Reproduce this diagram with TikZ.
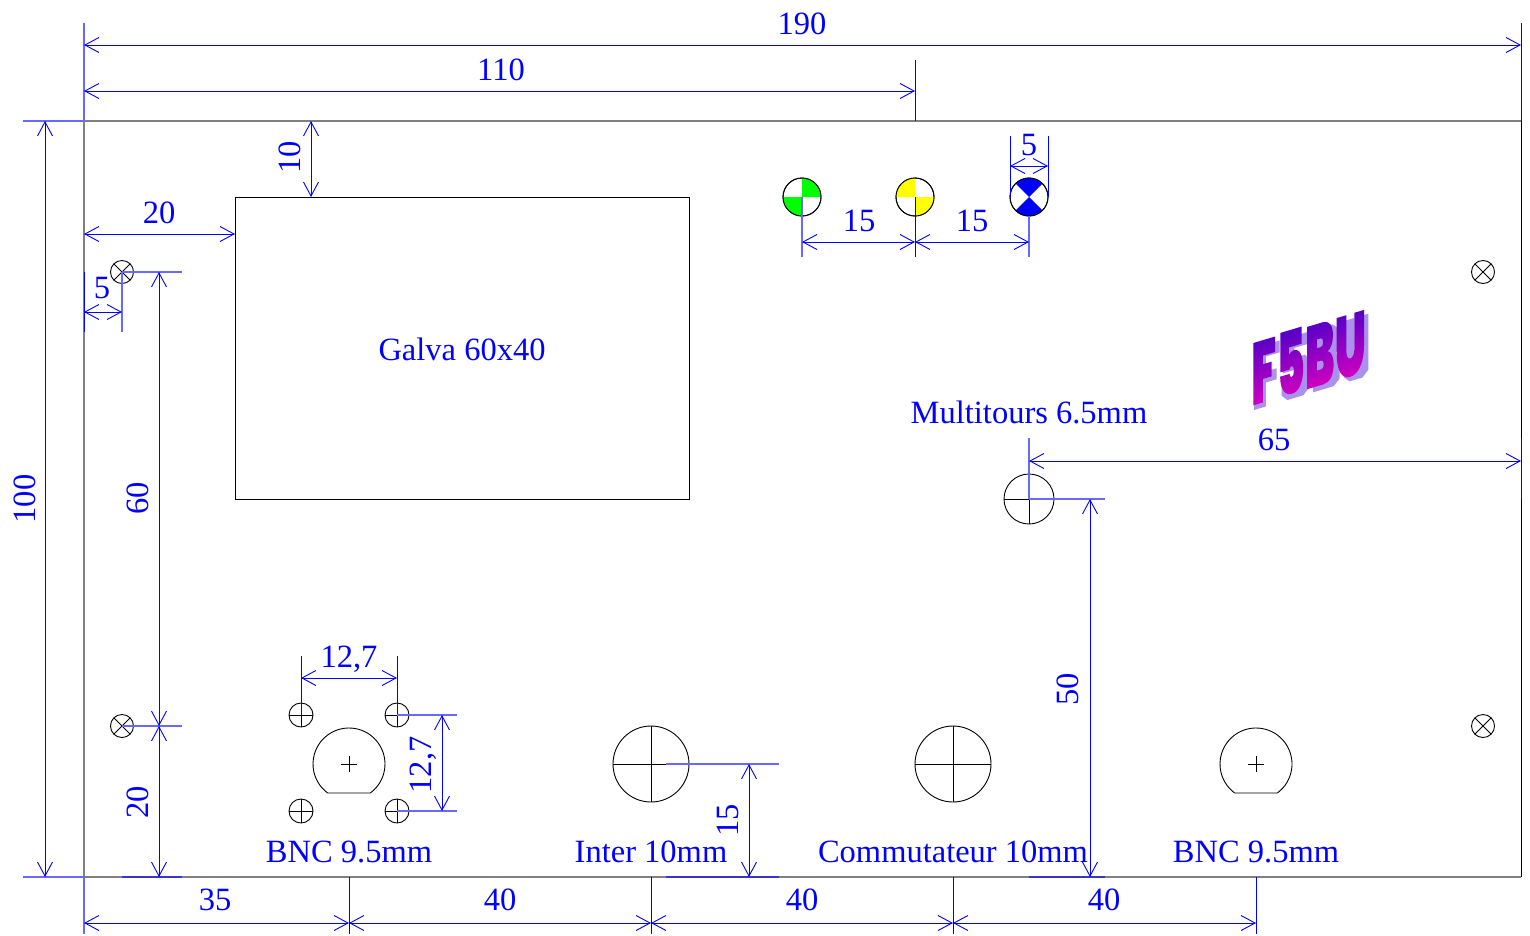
\documentclass[tikz,border=0pt]{standalone}
\usepackage{fontspec}
\setmainfont{Liberation Serif}
\newfontfamily\logofont{Poppins Black}
\usetikzlibrary{arrows.meta,shadings}
\definecolor{logoTop}{RGB}{80,0,200}
\definecolor{logoBot}{RGB}{215,0,190}
\definecolor{logoShadow}{RGB}{170,145,235}
\definecolor{dimblue}{RGB}{0,0,255}
\definecolor{softblue}{RGB}{105,105,255}
\definecolor{edgeblue}{RGB}{55,55,195}
\definecolor{softgray}{RGB}{128,128,128}
\definecolor{ledgreen}{RGB}{0,255,0}
\definecolor{ledyellow}{RGB}{255,255,0}
\newcommand{\CC}[3]{\coordinate (#1) at (#2,#3);}
\tikzset{
  outline/.style={draw=black,line width=0.9pt},
  softedge/.style={draw=softgray,line width=1.1pt},
  hole/.style={circle,draw=black,line width=0.9pt,inner sep=0pt,outer sep=0pt,minimum size=#1},
  extline/.style={color=dimblue,line width=0.9pt},
  softext/.style={color=softblue,line width=1.1pt},
  edgeext/.style={color=edgeblue,line width=1.1pt},
  dimline/.style={color=dimblue,line width=0.9pt,{Straight Barb[length=14pt,width=15pt]}-{Straight Barb[length=14pt,width=15pt]}},
  lab/.style={text=dimblue,font=\fontsize{32.5}{36}\selectfont,inner sep=0pt},
  vlab/.style={lab,rotate=90}
}
\begin{document}
\begin{tikzpicture}[x=1pt,y=-1pt]
\useasboundingbox (0,0) rectangle (1530,935);
% panel and meter
\node[inner sep=0pt,outer sep=0pt,minimum width=1437pt,minimum height=756pt] (panel) at (802.5,499) {};
\draw[softedge] (panel.south east)--(panel.south west)--(panel.north west)--(panel.north east);
\draw[outline] (panel.north east)--(panel.south east);
\node[draw=black,line width=0.9pt,inner sep=0pt,outer sep=0pt,minimum width=454pt,minimum height=302pt] (galva) at (462,348) {};
\node[lab] (galvaT) at (462,349) {Galva 60x40};
% screws
\foreach \n/\x/\y in {s1/122/272,s2/122/726,s3/1483/272,s4/1483/726}{
  \node[hole=23pt] (\n) at (\x,\y) {};
  \draw[outline] (\n.north west)--(\n.south east) (\n.north east)--(\n.south west);
}
% LEDs
\node[hole=38pt] (ledG) at (802,197) {};
\node[hole=38pt] (ledY) at (915,197) {};
\node[hole=38pt] (ledB) at (1029,197) {};
\fill[ledgreen] (ledG.center)--(ledG.east) arc[start angle=0,end angle=90,radius=19pt]--cycle;
\fill[ledgreen] (ledG.center)--(ledG.west) arc[start angle=180,end angle=270,radius=19pt]--cycle;
\fill[ledyellow] (ledY.center)--(ledY.north) arc[start angle=90,end angle=180,radius=19pt]--cycle;
\fill[ledyellow] (ledY.center)--(ledY.south) arc[start angle=270,end angle=360,radius=19pt]--cycle;
\fill[dimblue] (ledB.center)--(ledB.45) arc[start angle=45,end angle=135,radius=19pt]--cycle;
\fill[dimblue] (ledB.center)--(ledB.225) arc[start angle=225,end angle=315,radius=19pt]--cycle;
\foreach \n in {ledG,ledY,ledB}{\draw[outline] (\n.center) circle[radius=19pt];}
% round holes with cross
\foreach \n/\x/\y/\d in {m1/301/715/24pt,m2/397/715/24pt,m3/301/811/24pt,m4/397/811/24pt,inter/651/764/76pt,comm/953/764/76pt,multi/1029/499/50pt}{
  \node[hole=\d] (\n) at (\x,\y) {};
  \draw[outline] (\n.north)--(\n.south) (\n.west)--(\n.east);
}
% BNC cut-outs
\CC{bncA}{349}{764}\CC{bncB}{1256}{764}
\foreach \n in {bncA,bncB}{
  \draw[outline] (\n)++(-21.3,29)--++(42.6,0) arc[start angle=-53.7,end angle=233.7,radius=36pt]--cycle;
  \draw[outline] (\n)++(-8,0)--++(16,0) (\n)++(0,-8)--++(0,16);
}
% logo: drop shadow drawn as shapes, letters as real text filled with a gradient
\begin{scope}[cm={0.985,0.295,0,1,(1254,410)},x=1pt,y=1pt]
\fill[logoShadow] (0,0)--(12,0)--(12,24)--(23,24)--(23,35)--(12,35)--(12,50)--(26,50)--(26,62)--(0,62)--cycle;
\fill[logoShadow] (29,62)--(55,62)--(55,50)--(41,50)--(41,40)--(52,40)--(56,34)--(56,6)--(50,0)--(34,0)--(28,6)--(28,20)--(40,20)--(40,10)--(44,10)--(44,28)--(29,28)--cycle;
\fill[logoShadow] (60,0)--(60,62)--(80,62)--(86,56)--(86,38)--(83,32)--(87,26)--(87,6)--(81,0)--cycle;
\fill[logoShadow] (91,62)--(102,62)--(102,12)--(105,12)--(105,62)--(116,62)--(116,6)--(110,0)--(97,0)--(91,6)--cycle;
\end{scope}
\begin{scope}[shift={(1251,406)}]
\node[cm={0.495,0.148,0,1,(0,0)},transform shape,anchor=base west,inner sep=0pt,font=\fontsize{88}{90}\selectfont\logofont] (logoT) at (0,0) {\special{pdf:code 7 Tr}F5BU\special{pdf:code 0 Tr}\tikz[overlay,x=1pt,y=1pt]{\shade[top color=logoTop,bottom color=logoBot,draw=none] (-255,-5) rectangle (5,68);}};
\end{scope}
% dimension coordinates
\CC{a1}{84}{23}\CC{a2}{1521}{23}\CC{a3}{915}{60}\CC{a3b}{915}{121}
\CC{d190a}{84}{45}\CC{d190b}{1521}{45}
\CC{d110a}{84}{91}\CC{d110b}{915}{91}
\CC{b1}{23}{121}\CC{b2}{23}{877}
\CC{d100a}{45}{121}\CC{d100b}{45}{877}
\CC{d10a}{311}{121}\CC{d10b}{311}{197}
\CC{d20a}{84}{234}\CC{d20b}{235}{234}
\CC{d5a}{84}{312}\CC{d5b}{122}{312}
\CC{e1}{84}{272}\CC{e2}{84}{332}\CC{e3}{122}{332}
\CC{f1}{182}{272}\CC{f2}{182}{726}
\CC{d60a}{159}{272}\CC{d60b}{159}{726}\CC{d20c}{159}{877}
\CC{g1}{122}{877}\CC{g2}{182}{877}
\CC{d35a}{84}{923}\CC{d35b}{349}{923}\CC{d35c}{651}{923}\CC{d35d}{953}{923}\CC{d35e}{1256}{923}
\CC{h0}{84}{934}\CC{h1t}{349}{877}\CC{h1b}{349}{934}\CC{h2t}{651}{877}\CC{h2b}{651}{934}
\CC{h3t}{953}{877}\CC{h3b}{953}{934}\CC{h4t}{1256}{877}\CC{h4b}{1256}{934}
\CC{i1}{301}{656}\CC{i2}{397}{656}\CC{d127a}{301}{678}\CC{d127b}{397}{678}
\CC{j1}{457}{715}\CC{j2}{457}{811}\CC{d127c}{442}{715}\CC{d127d}{442}{811}
\CC{k0}{666}{764}\CC{k1}{779}{764}\CC{k2}{666}{877}\CC{k3}{779}{877}\CC{d15a}{749}{764}\CC{d15b}{749}{877}
\CC{l1}{1105}{499}\CC{l2}{1029}{877}\CC{l3}{1105}{877}\CC{d50a}{1090}{499}\CC{d50b}{1090}{877}
\CC{n1}{1029}{438}\CC{n2}{1521}{438}\CC{n3}{1521}{499}\CC{d65a}{1029}{461}\CC{d65b}{1521}{461}
\CC{o1}{802}{257}\CC{o2}{915}{257}\CC{o3}{1029}{257}
\CC{d15p}{802}{242}\CC{d15q}{915}{242}\CC{d15r}{1029}{242}
\CC{q1}{1010}{136}\CC{q2}{1010}{197}\CC{q3}{1048}{136}\CC{q4}{1048}{197}
\CC{d5c}{1010}{166}\CC{d5d}{1048}{166}
% extension lines
\draw[extline] (a2)--(panel.north east) (a3)--(a3b) (n2)--(n3);
\draw[softext] (a1)--(panel.north west) (b1)--(panel.north west) (b2)--(panel.south west) (panel.south west)--(h0);
\draw[extline] (e1)--(e2) (h1t)--(h1b) (h2t)--(h2b) (h3t)--(h3b) (h4t)--(h4b);
\draw[softext] (s1.center)--(e3) (s1.center)--(f1) (s2.center)--(f2);
\draw[edgeext] (g1)--(g2) (k2)--(k3) (l2)--(l3);
\draw[extline] (m1.center)--(i1) (m2.center)--(i2);
\draw[softext] (m2.center)--(j1) (m4.center)--(j2) (k0)--(k1) (multi.center)--(l1) (multi.center)--(n1);
\draw[extline] (ledY.center)--(o2) (q1)--(q2) (q3)--(q4);
\draw[softext] (ledG.center)--(o1) (ledB.south)--(o3);
% dimension lines
\draw[dimline] (d190a)--(d190b);
\draw[dimline] (d110a)--(d110b);
\draw[dimline] (d100a)--(d100b);
\draw[dimline] (d10a)--(d10b);
\draw[dimline] (d20a)--(d20b);
\draw[dimline] (d5a)--(d5b);
\draw[dimline] (d60a)--(d60b);
\draw[dimline] (d60b)--(d20c);
\draw[dimline] (d35a)--(d35b);
\draw[dimline] (d35b)--(d35c);
\draw[dimline] (d35c)--(d35d);
\draw[dimline] (d35d)--(d35e);
\draw[dimline] (d127a)--(d127b);
\draw[dimline] (d127c)--(d127d);
\draw[dimline] (d15a)--(d15b);
\draw[dimline] (d50a)--(d50b);
\draw[dimline] (d65a)--(d65b);
\draw[dimline] (d15p)--(d15q);
\draw[dimline] (d15q)--(d15r);
\draw[dimline] (d5c)--(d5d);
% labels
\node[lab] (t190) at (802,24) {190};
\node[lab] (t110) at (501,70) {110};
\node[vlab] (t100) at (25,499) {100};
\node[vlab] (t10) at (290,157) {10};
\node[lab] (t20) at (159,213) {20};
\node[lab] (t5) at (102,288) {5};
\node[vlab] (t60) at (138,498) {60};
\node[vlab] (t20b) at (138,802) {20};
\node[lab] (t35) at (215,900) {35};
\node[lab] (t40a) at (500,900) {40};
\node[lab] (t40b) at (802,900) {40};
\node[lab] (t40c) at (1104,900) {40};
\node[lab] (t127a) at (349,659) {12,7};
\node[vlab] (t127b) at (423,765) {12,7};
\node[vlab] (t15v) at (728,820) {15};
\node[vlab] (t50) at (1068,689) {50};
\node[lab] (t65) at (1274,440) {65};
\node[lab] (t15a) at (859,221) {15};
\node[lab] (t15b) at (972,221) {15};
\node[lab] (t5b) at (1029,145) {5};
\node[lab] (tMulti) at (1029,412) {Multitours 6.5mm};
\node[lab] (tBncA) at (349,852) {BNC 9.5mm};
\node[lab] (tInter) at (651,852) {Inter 10mm};
\node[lab] (tComm) at (953,852) {Commutateur 10mm};
\node[lab] (tBncB) at (1256,852) {BNC 9.5mm};
\end{tikzpicture}
\end{document}
